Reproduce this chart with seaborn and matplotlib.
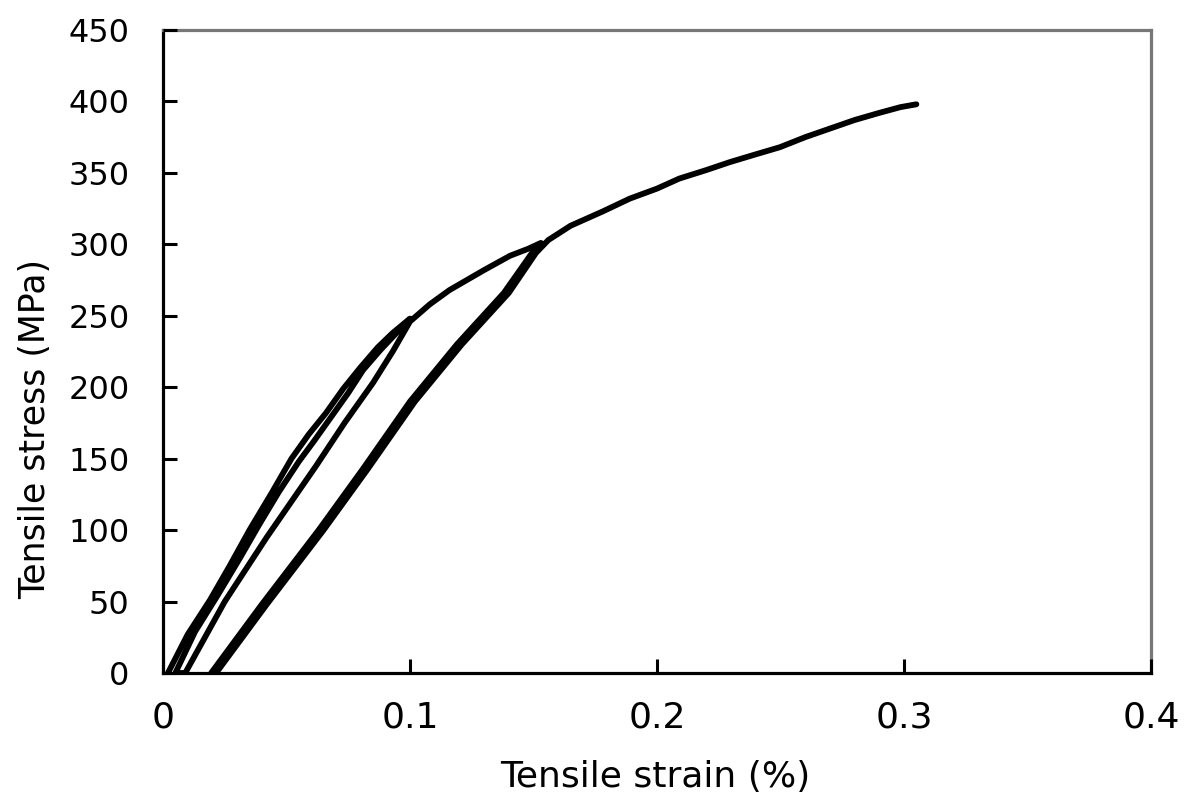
import matplotlib
matplotlib.use('Agg')
import matplotlib.pyplot as plt
import seaborn as sns
import pandas as pd
import numpy as np

# cycle 1: first loading
load1_strain = [0.002, 0.010, 0.019, 0.027, 0.035, 0.044, 0.052, 0.059, 0.066, 0.073, 0.080, 0.087, 0.093, 0.100]
load1_stress = [0, 27, 51, 75, 100, 126, 150, 167, 182, 199, 214, 228, 238, 248]
# cycle 1: unloading
unload1_strain = [0.100, 0.094, 0.088, 0.081, 0.075, 0.068, 0.061, 0.055, 0.047, 0.039, 0.031, 0.022, 0.013, 0.005]
unload1_stress = [248, 237, 226, 212, 196, 179, 162, 148, 127, 104, 80, 54, 29, 0]
# cycle 2: reloading up to 300 MPa
reload2_strain = [0.009, 0.025, 0.042, 0.062, 0.0735, 0.085, 0.093, 0.100, 0.108, 0.116, 0.123, 0.130, 0.1405, 0.148, 0.153]
reload2_stress = [0, 50, 95, 145, 175, 203, 225, 246, 258, 268, 275, 282, 292, 297, 301]
# cycle 2: unloading
unload2_strain = [0.153, 0.149, 0.138, 0.119, 0.100, 0.081, 0.063, 0.040, 0.0195]
unload2_stress = [301, 293, 266, 230, 190, 143, 100, 48, 0]
# cycle 3: reloading to failure
reload3_strain = [0.0215, 0.042, 0.065, 0.083, 0.102, 0.121, 0.140, 0.151, 0.156, 0.165, 0.178, 0.189,
                  0.200, 0.209, 0.220, 0.2296, 0.240, 0.2498, 0.260, 0.270, 0.280, 0.290, 0.2985, 0.305]
reload3_stress = [0, 48, 100, 143, 190, 230, 266, 294, 303, 313, 323, 332,
                  339, 346, 352, 357.6, 363, 368, 375, 381, 387, 392, 396, 398]

x_ticks = [0, 0.1, 0.2, 0.3, 0.4]
x_ticklabels = ['0', '0.1', '0.2', '0.3', '0.4']
y_ticks = list(range(0, 451, 50))
y_ticklabels = [str(v) for v in y_ticks]

df = pd.DataFrame({
    'strain': load1_strain + unload1_strain + reload2_strain + unload2_strain + reload3_strain,
    'stress': load1_stress + unload1_stress + reload2_stress + unload2_stress + reload3_stress,
})

sns.set_style('ticks')
# all tick styling through rcParams, set before the axes exist
plt.rcParams.update({
    'font.family': ['DejaVu Sans'],
    'text.color': 'black',
    'axes.labelcolor': 'black',
    'xtick.color': 'black',
    'ytick.color': 'black',
    'xtick.labelcolor': 'black',
    'ytick.labelcolor': 'black',
    'xtick.direction': 'in',
    'ytick.direction': 'in',
    'xtick.major.size': 10,
    'ytick.major.size': 10,
    'xtick.major.width': 2.2,
    'ytick.major.width': 2.2,
    'xtick.major.pad': 20,
    'ytick.major.pad': 24,
    'xtick.labelsize': 26,
    'ytick.labelsize': 23,
    'xtick.bottom': True,
    'ytick.left': True,
    'xtick.top': False,
    'ytick.right': False,
    'axes.axisbelow': False,
})

fig = plt.figure(figsize=(11.98, 7.99), dpi=100)
ax = fig.add_axes([163/1198, 1 - 673/799, (1151-163)/1198, (673-30)/799])
sns.lineplot(data=df, x='strain', y='stress', sort=False, estimator=None,
             color='black', linewidth=4.2, ax=ax)

ax.set_xlim(0, 0.4)
ax.set_ylim(0, 450)
ax.set_xticks(x_ticks, labels=x_ticklabels)
ax.set_yticks(y_ticks, labels=y_ticklabels)

for s in ['left', 'bottom']:
    ax.spines[s].set_color('black')
    ax.spines[s].set_linewidth(2.3)
for s in ['top', 'right']:
    ax.spines[s].set_color('#777777')
    ax.spines[s].set_linewidth(2.3)

ax.set_xlabel('Tensile strain (%)', fontsize=26, color='black')
ax.set_ylabel('Tensile stress (MPa)', fontsize=25, color='black')
ax.xaxis.set_label_coords(0.498, -0.135)
ax.yaxis.set_label_coords(-0.112, 0.38)

fig.savefig('out.png', dpi=100)
